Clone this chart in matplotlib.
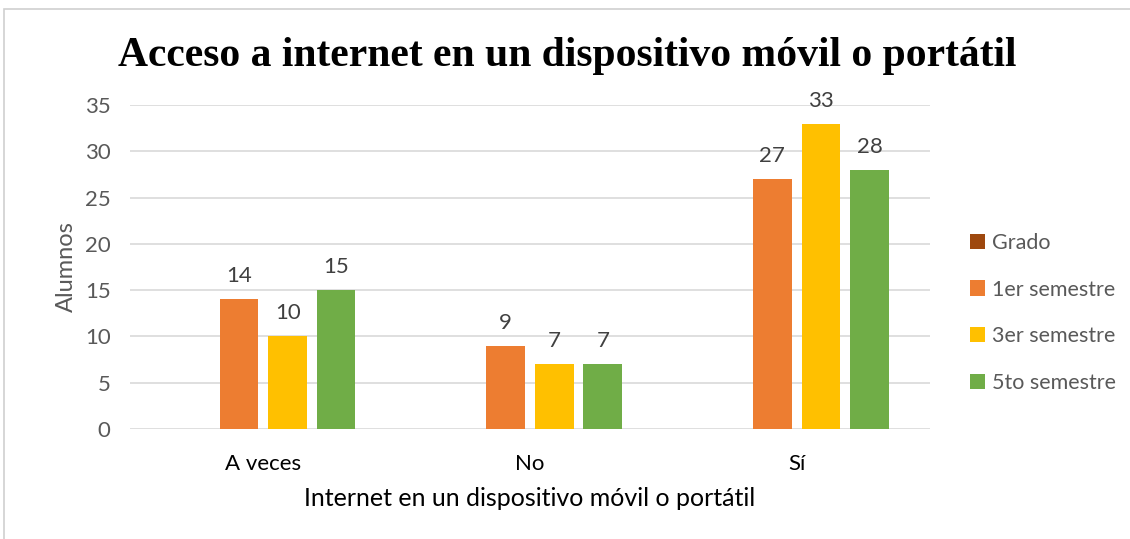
import numpy as np
import matplotlib.pyplot as plt
from matplotlib.patches import Rectangle

# datos
categorias = ["A veces", "No", "Sí"]
series = ["Grado", "1er semestre", "3er semestre", "5to semestre"]
grado = [0, 0, 0]
sem1 = [14, 9, 27]
sem3 = [10, 7, 33]
sem5 = [15, 7, 28]
colores = ["#9E480E", "#ED7D31", "#FFC000", "#70AD47"]

valores = [grado, sem1, sem3, sem5]

plt.rcParams['font.family'] = ['Lato', 'DejaVu Sans']
gris = "#595959"

fig = plt.figure(figsize=(11.3, 5.39), dpi=100)
ax = fig.add_axes([130 / 1130, 110 / 539, 800 / 1130, 324 / 539])

# marco del grafico
fig.patches.append(Rectangle((4 / 1130, -0.1), 1.2, (539 - 9) / 539 + 0.1,
                             transform=fig.transFigure, fill=False,
                             edgecolor="#d0d0d0", linewidth=1.2))

x = np.arange(len(categorias))
ancho = 0.145
paso = 0.182
for i, (nombre, vals, c) in enumerate(zip(series, valores, colores)):
    pos = x + (i - 1.5) * paso
    barras = ax.bar(pos, vals, ancho, color=c, label=nombre, zorder=3)
    for b, v in zip(barras, vals):
        if v > 0:
            ax.text(b.get_x() + b.get_width() / 2, v + 1.4, str(v),
                    ha="center", va="bottom", fontsize=16, color="#404040")

ax.set_xlim(-0.5, 2.5)
ax.set_ylim(0, 35)
ax.set_yticks(range(0, 36, 5))
ax.yaxis.grid(True, color="#d9d9d9", linewidth=1.2, zorder=0)
ax.set_axisbelow(True)
for s in ax.spines.values():
    s.set_visible(False)
ax.tick_params(axis="y", length=0, labelsize=16, colors=gris, pad=14)
ax.tick_params(axis="x", length=0, labelsize=16, pad=18)
ax.set_xticks(x)
ax.set_xticklabels(categorias)

ax.set_ylabel("Alumnos", fontsize=17, color=gris, labelpad=6)
ax.set_xlabel("Internet en un dispositivo móvil o portátil", fontsize=18,
              color="black", labelpad=9)

fig.text(567 / 1130, 1 - 56 / 539,
         "Acceso a internet en un dispositivo móvil o portátil",
         ha="center", va="center", fontsize=30, fontweight="bold",
         family=["Liberation Serif", "DejaVu Serif"])

ax.legend(loc="center left", bbox_to_anchor=(1.05, 0.358), frameon=False,
          fontsize=15.5, labelcolor=gris, handlelength=0.7, handleheight=0.7,
          handletextpad=0.3, labelspacing=1.25, borderpad=0,
          borderaxespad=0)

fig.savefig("out.png", dpi=100)
